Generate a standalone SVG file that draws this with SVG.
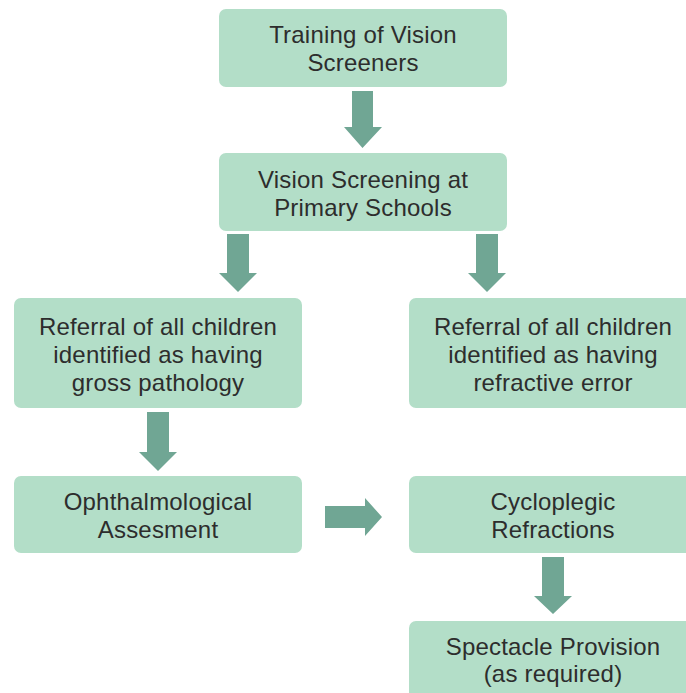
<svg xmlns="http://www.w3.org/2000/svg" width="686" height="693" viewBox="0 0 686 693">
  <style>
    .box { fill: #b3dec8; }
    .arrow { fill: #70a694; }
    .label { font-family: "Liberation Sans", Arial, sans-serif; font-size: 24px; letter-spacing: 0.2px; fill: #2d2d2d; text-anchor: middle; }
  </style>
  <rect width="686" height="693" fill="#ffffff"/>

  <!-- connectors: block arrows -->
  <g id="connectors">
    <polygon class="arrow" points="352,91 373,91 373,127 382,127 362.5,148 344,127 352,127"/>
    <polygon class="arrow" points="227,234 249,234 249,273 257,273 238,292 219,273 227,273"/>
    <polygon class="arrow" points="476,234 498,234 498,273 506,273 487,292 468,273 476,273"/>
    <polygon class="arrow" points="147,412 169,412 169,452 177,452 158,471 139,452 147,452"/>
    <polygon class="arrow" points="325,506 365,506 365,498 382,517 365,536 365,528 325,528"/>
    <polygon class="arrow" points="542,557 564,557 564,596 572,596 553,614 534,596 542,596"/>
  </g>

  <g id="training">
    <rect class="box" x="219" y="9" width="288" height="78" rx="7"/>
    <text class="label" x="363" y="43">Training of Vision</text>
    <text class="label" x="363" y="71">Screeners</text>
  </g>

  <g id="screening">
    <rect class="box" x="219" y="153" width="288" height="78" rx="7"/>
    <text class="label" x="363" y="188">Vision Screening at</text>
    <text class="label" x="363" y="216">Primary Schools</text>
  </g>

  <g id="referral-pathology">
    <rect class="box" x="14" y="298" width="288" height="110" rx="7"/>
    <text class="label" x="158" y="335">Referral of all children</text>
    <text class="label" x="158" y="363">identified as having</text>
    <text class="label" x="158" y="391">gross pathology</text>
  </g>

  <g id="referral-refractive">
    <rect class="box" x="409" y="298" width="288" height="110" rx="7"/>
    <text class="label" x="553" y="335">Referral of all children</text>
    <text class="label" x="553" y="363">identified as having</text>
    <text class="label" x="553" y="391">refractive error</text>
  </g>

  <g id="ophthalmological">
    <rect class="box" x="14" y="476" width="288" height="77" rx="7"/>
    <text class="label" x="158" y="510">Ophthalmological</text>
    <text class="label" x="158" y="538">Assesment</text>
  </g>

  <g id="cycloplegic">
    <rect class="box" x="409" y="476" width="288" height="77" rx="7"/>
    <text class="label" x="553" y="510">Cycloplegic</text>
    <text class="label" x="553" y="538">Refractions</text>
  </g>

  <g id="spectacle">
    <rect class="box" x="409" y="621" width="288" height="85" rx="7"/>
    <text class="label" x="553" y="655">Spectacle Provision</text>
    <text class="label" x="553" y="682">(as required)</text>
  </g>
</svg>
